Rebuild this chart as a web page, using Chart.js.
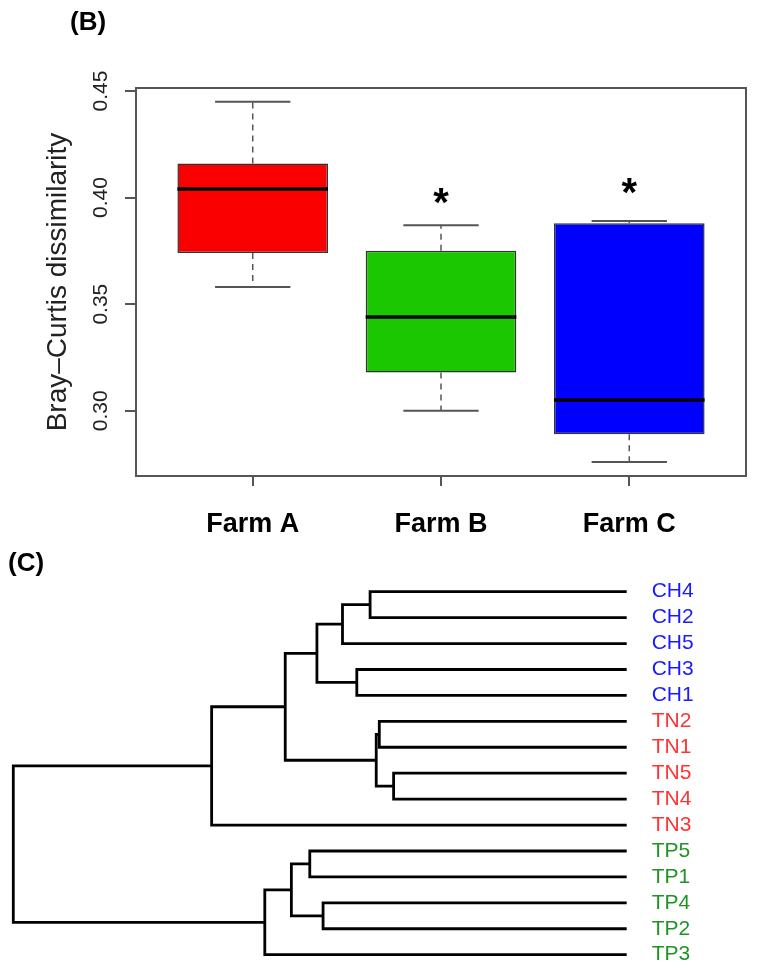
<!DOCTYPE html>
<html>
<head>
<meta charset="utf-8">
<script src="https://cdn.jsdelivr.net/npm/chart.js@4"></script>
<style>
  body { margin:0; background:#fff; width:759px; height:975px; position:relative; overflow:hidden; font-family:'Liberation Sans', Arial, sans-serif; }
  .panel { position:absolute; left:0; width:759px; }
  #boxWrap { top:0; height:545px; }
  #treeWrap { top:545px; height:430px; }
  .tag { position:absolute; font-weight:bold; font-size:26px; line-height:1; color:#000; }
</style>
</head>
<body>
<div class="panel" id="boxWrap"><canvas id="boxChart"></canvas></div>
<div class="panel" id="treeWrap"><canvas id="treeChart"></canvas></div>
<div class="tag" style="left:70px; top:8px;">(B)</div>
<div class="tag" style="left:8px; top:549px;">(C)</div>
<script>
// (B) box plot values
const farms = ["Farm A", "Farm B", "Farm C"];
const whiskerLow = [0.358, 0.300, 0.276];
const q1 = [0.374, 0.318, 0.289];
const medians = [0.404, 0.344, 0.305];
const q3 = [0.416, 0.375, 0.388];
const whiskerHigh = [0.445, 0.387, 0.389];
const boxColors = ["#fb0000", "#1ac700", "#0000ff"];
const sigMarks = ["", "*", "*"];
const sigLevels = [null, 0.401, 0.406];
const yTicks = [0.30, 0.35, 0.40, 0.45];

// (C) dendrogram, leaves top to bottom; merges like hclust (-k = leaf k, +k = merge row k)
const leafLabels = ["CH4", "CH2", "CH5", "CH3", "CH1", "TN2", "TN1", "TN5", "TN4", "TN3", "TP5", "TP1", "TP4", "TP2", "TP3"];
const leafColors = ["#1a1aff", "#1a1aff", "#1a1aff", "#1a1aff", "#1a1aff",
                    "#ff3333", "#ff3333", "#ff3333", "#ff3333", "#ff3333",
                    "#1f9423", "#1f9423", "#1f9423", "#1f9423", "#1f9423"];
const mergeLeft = [-1, 1, -4, 2, -6, -8, 5, 4, 8, -11, -13, 10, 12, 9];
const mergeRight = [-2, -3, -5, 3, -7, -9, 6, 7, -10, -12, -14, 11, -15, 13];
const mergeHeight = [0.251, 0.278, 0.264, 0.303, 0.242, 0.228, 0.245, 0.334, 0.406, 0.310, 0.297, 0.328, 0.354, 0.600];

Chart.defaults.font.family = "'Liberation Sans', Arial, sans-serif";
Chart.defaults.animation = false;

// box frame like R's box()
const frame = {
  id: 'frame',
  afterDraw(chart) {
    const a = chart.chartArea, c = chart.ctx;
    c.save();
    c.strokeStyle = '#555';
    c.lineWidth = 2;
    c.strokeRect(a.left, a.top, a.right - a.left, a.bottom - a.top);
    c.restore();
  }
};

// significance stars
const stars = {
  id: 'stars',
  afterDatasetsDraw(chart) {
    const { ctx, scales: { x, y } } = chart;
    ctx.save();
    ctx.font = "bold 40px 'Liberation Sans', Arial";
    ctx.textAlign = 'center';
    ctx.textBaseline = 'alphabetic';
    ctx.fillStyle = '#000';
    sigMarks.forEach((m, i) => {
      if (!m) return;
      ctx.fillText(m, x.getPixelForValue(i + 1), y.getPixelForValue(sigLevels[i]) + 21);
    });
    ctx.restore();
  }
};

const boxSets = [{
  type: 'bar',
  data: farms.map((f, i) => ({ x: i + 1, y: [q1[i], q3[i]] })),
  backgroundColor: boxColors,
  borderColor: '#333',
  borderWidth: 1.5,
  borderSkipped: false,
  barPercentage: 0.8,
  categoryPercentage: 1,
  order: 10
}];

function seg(x1, y1, x2, y2, style) {
  boxSets.push(Object.assign({
    type: 'line',
    data: [{ x: x1, y: y1 }, { x: x2, y: y2 }],
    pointRadius: 0,
    order: 0,
    clip: false
  }, style));
}
const dashed = { borderColor: '#555', borderWidth: 1.5, borderDash: [6, 5] };
const cap = { borderColor: '#555', borderWidth: 2 };
const med = { borderColor: '#000', borderWidth: 3.5 };

farms.forEach((f, i) => {
  const x = i + 1;
  seg(x, q3[i], x, whiskerHigh[i], dashed);
  seg(x, q1[i], x, whiskerLow[i], dashed);
  seg(x - 0.2, whiskerHigh[i], x + 0.2, whiskerHigh[i], cap);
  seg(x - 0.2, whiskerLow[i], x + 0.2, whiskerLow[i], cap);
  seg(x - 0.4, medians[i], x + 0.4, medians[i], med);
});

new Chart(document.getElementById('boxChart'), {
  type: 'bar',
  data: { datasets: boxSets },
  plugins: [frame, stars],
  options: {
    responsive: true,
    maintainAspectRatio: false,
    layout: { padding: { top: 88, right: 13, left: 0, bottom: 0 } },
    plugins: { legend: { display: false }, tooltip: { enabled: false } },
    events: [],
    scales: {
      x: {
        type: 'linear',
        offset: false,
        min: 0.38,
        max: 3.62,
        afterBuildTicks: s => { s.ticks = farms.map((f, i) => ({ value: i + 1 })); },
        afterFit: s => { s.height = 69; },
        grid: { display: true, offset: false, drawOnChartArea: false, drawTicks: true, tickLength: 10, color: '#555', lineWidth: 2 },
        border: { display: false },
        ticks: { callback: (v, i) => farms[i], font: { size: 27, weight: 'bold' }, color: '#000', padding: 22, maxRotation: 0, autoSkip: false }
      },
      y: {
        min: 0.2694,
        max: 0.4514,
        afterBuildTicks: s => { s.ticks = yTicks.map(v => ({ value: v })); },
        afterFit: s => { s.width = 136; },
        grid: { display: true, drawOnChartArea: false, tickLength: 11, color: '#555', lineWidth: 2 },
        border: { display: false },
        ticks: { callback: v => v.toFixed(2), font: { size: 21 }, color: '#222', minRotation: 90, maxRotation: 90, padding: 3, crossAlign: 'center' },
        title: { display: true, text: 'Bray–Curtis dissimilarity', font: { size: 28 }, color: '#222', padding: { top: 41, bottom: 0 } }
      }
    }
  }
});

// dendrogram: each merge is an elbow from child to child at merge height
const nodeY = [];
function childPos(k) {
  return k < 0 ? { y: -k - 1, h: 0 } : { y: nodeY[k - 1], h: mergeHeight[k - 1] };
}
const treeSets = mergeLeft.map((l, i) => {
  const a = childPos(l), b = childPos(mergeRight[i]);
  const H = mergeHeight[i];
  nodeY[i] = (a.y + b.y) / 2;
  return {
    data: [{ x: a.h, y: a.y }, { x: H, y: a.y }, { x: H, y: b.y }, { x: b.h, y: b.y }],
    showLine: true,
    borderColor: '#000',
    borderWidth: 2.8,
    borderJoinStyle: 'miter',
    pointRadius: 0,
    clip: false
  };
});

new Chart(document.getElementById('treeChart'), {
  type: 'scatter',
  data: { datasets: treeSets },
  options: {
    responsive: true,
    maintainAspectRatio: false,
    layout: { padding: { top: 46.7, right: 0, left: 13.3, bottom: 20.3 } },
    plugins: { legend: { display: false }, tooltip: { enabled: false } },
    events: [],
    scales: {
      x: { type: 'linear', reverse: true, min: 0, max: mergeHeight[mergeHeight.length - 1], display: false },
      y: {
        type: 'linear',
        position: 'right',
        reverse: true,
        min: 0,
        max: leafLabels.length - 1,
        afterBuildTicks: s => { s.ticks = leafLabels.map((l, i) => ({ value: i })); },
        afterFit: s => { s.width = 132.3; s.paddingTop = 0; s.paddingBottom = 0; },
        grid: { display: false },
        border: { display: false },
        ticks: { callback: (v, i) => leafLabels[i], color: c => leafColors[c.index], font: { size: 21 }, padding: 17, autoSkip: false }
      }
    }
  }
});
</script>
</body>
</html>
